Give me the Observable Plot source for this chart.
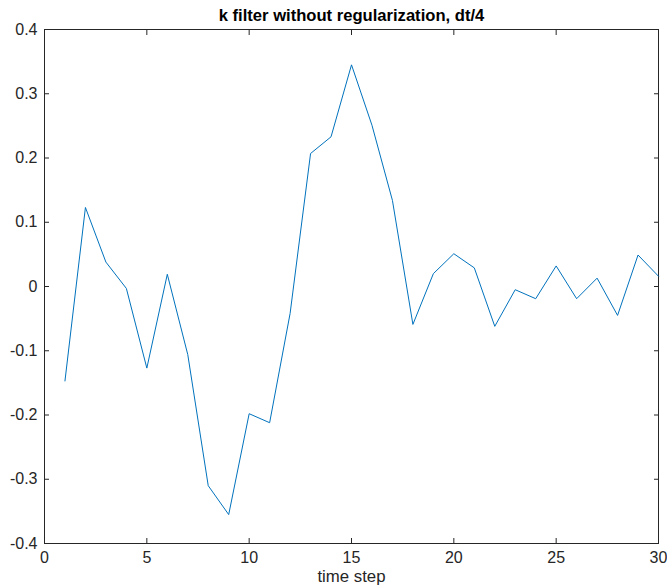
<!DOCTYPE html>
<html>
<head>
<meta charset="utf-8">
<script src="https://cdn.jsdelivr.net/npm/d3@7"></script>
<script src="https://cdn.jsdelivr.net/npm/@observablehq/plot@0.6"></script>
<style>
  html, body { margin: 0; padding: 0; background: #fff; }
  #chart svg { display: block; }
</style>
</head>
<body>
<div id="chart"></div>
<script>
const timeSteps = d3.range(1, 31);
const kValues = [
  -0.147, 0.123, 0.038, -0.003, -0.127, 0.019, -0.106, -0.310, -0.355, -0.198,
  -0.212, -0.042, 0.207, 0.233, 0.345, 0.251, 0.134, -0.059, 0.020, 0.051,
  0.029, -0.062, -0.005, -0.019, 0.032, -0.019, 0.013, -0.045, 0.049, 0.016
];
const xTicks = [0, 5, 10, 15, 20, 25, 30];
const yTicks = [-0.4, -0.3, -0.2, -0.1, 0, 0.1, 0.2, 0.3, 0.4];
const titleText = "k filter without regularization, dt/4";
const xLabel = "time step";

const data = timeSteps.map((t, i) => ({t, k: kValues[i]}));
const axisColor = "#262626";
const font = "'Liberation Sans', Arial, Helvetica, sans-serif";

const plot = Plot.plot({
  width: 667,
  height: 587,
  marginLeft: 44,
  marginRight: 9,
  marginTop: 29,
  marginBottom: 44,
  style: {fontFamily: font, fontSize: "16px", color: axisColor, background: "#fff"},
  x: {domain: [0, 30]},
  y: {domain: [-0.4, 0.4]},
  marks: [
    Plot.frame({stroke: axisColor, strokeWidth: 1}),
    Plot.axisX(xTicks, {anchor: "bottom", tickSize: -5, tickPadding: 13, label: null, tickFormat: d => String(d), fontSize: 16, stroke: axisColor, color: axisColor}),
    Plot.axisX(xTicks, {anchor: "top", tickSize: -5, label: null, tickFormat: () => "", stroke: axisColor}),
    Plot.axisY(yTicks, {anchor: "left", tickSize: -5, tickPadding: 12, label: null, tickFormat: d => String(d), fontSize: 16, stroke: axisColor}),
    Plot.axisY(yTicks, {anchor: "right", tickSize: -5, label: null, tickFormat: () => "", stroke: axisColor}),
    Plot.lineY(data, {x: "t", y: "k", stroke: "#0072BD", strokeWidth: 1}),
    Plot.text([titleText], {frameAnchor: "top", lineAnchor: "bottom", dy: -8.5, text: d => d, fontWeight: "bold", fontSize: 16.6, fill: "#000"}),
    Plot.text([xLabel], {frameAnchor: "bottom", lineAnchor: "bottom", dy: 38.5, text: d => d, fontSize: 16.8, fill: axisColor})
  ]
});
document.getElementById("chart").appendChild(plot);
</script>
</body>
</html>
